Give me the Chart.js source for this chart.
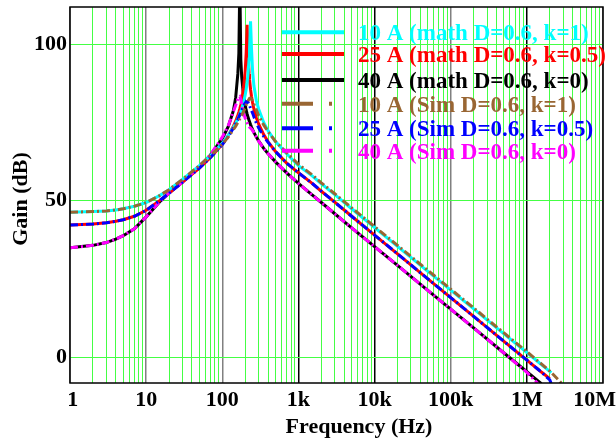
<!DOCTYPE html>
<html><head><meta charset="utf-8">
<script src="https://cdn.jsdelivr.net/npm/chart.js@4/dist/chart.umd.min.js"></script>
<style>html,body{margin:0;padding:0;background:#fff;}canvas{display:block;}</style>
</head><body>
<canvas id="c" width="616" height="443"></canvas>
<script>
const freqHz = [1,2,3,4,5,7,10,15,20,30,
  50,70,100,120,140,150,160,165,170,175,
  180,190,200,206,212,218,225,228,235,242,
  250,260,280,300,350,400,500,700,1000,1500,
  2000,3000,5000,1e4,2e4,5e4,1e5,2e5,5e5,1e6,
  1.4e6,1.55e6,2e6,2.1e6,3e6];
const tickLabels = ['1','10','100','1k','10k','100k','1M','10M'];
const yTickValues = [0,50,100];
const seriesNames = ['10 A (math D=0.6, k=1)','25 A (math D=0.6, k=0.5)','40 A (math D=0.6, k=0)',
  '10 A (Sim D=0.6, k=1)','25 A (Sim D=0.6, k=0.5)','40 A (Sim D=0.6, k=0)'];
const xTitle = 'Frequency (Hz)';
const yTitle = 'Gain (dB)';

const gain10AMath = [46.3,46.5,46.7,47.0,47.4,48.2,49.4,51.6,53.5,56.8,
  61.2,64.4,68.3,70.9,73.4,74.7,76.1,76.9,77.7,78.5,
  79.4,81.4,83.8,85.6,87.8,90.8,95.3,98.5,107.3,98.5,
  91.5,86.8,82.0,79.3,75.0,72.3,68.9,65.0,61.2,58.0,
  55.4,51.9,47.4,41.4,35.4,27.4,21.4,15.4,7.4,1.4,
  -1.5,-2.4,-4.6,-5.0,null];
const gain25AMath = [42.2,42.5,42.9,43.4,43.9,45.0,46.9,50.0,52.4,55.9,
  60.4,63.8,68.0,70.8,73.8,75.4,77.3,78.3,79.4,80.6,
  82.0,86.0,91.5,97.2,106.2,97.3,90.5,88.7,85.6,83.3,
  81.3,79.3,76.5,74.5,71.1,68.8,65.7,62.0,58.9,55.6,
  53.0,49.5,45.0,39.0,33.0,25.0,19.0,13.0,5.0,-1.0,
  -3.9,-4.8,-6.9,null,null];
const gain40AMath = [34.9,35.7,36.6,37.7,38.8,41.0,44.8,49.6,52.4,55.9,
  60.9,64.6,69.8,73.7,78.8,83.0,90.5,97.0,120,95.2,
  89.5,83.7,80.4,78.9,77.7,76.7,75.6,75.2,74.3,73.5,
  72.7,71.8,70.3,69.1,66.7,65.0,62.4,58.9,55.5,51.9,
  49.4,45.8,41.3,35.3,29.3,21.3,15.3,9.3,1.3,-4.7,
  -7.6,-8.5,null,null,null];
const gain10ASim = [46.3,46.5,46.7,47.0,47.4,48.2,49.4,51.6,53.5,56.8,
  61.2,64.4,68.0,70.4,72.7,73.8,75.0,75.6,76.2,76.8,
  77.3,78.4,79.8,80.6,81.3,81.9,82.5,82.7,82.8,82.5,
  81.8,80.9,79.0,77.2,74.2,72.0,68.9,65.3,61.6,58.3,
  55.7,52.2,47.7,41.7,35.7,27.7,21.7,15.7,7.7,1.7,
  -1.3,-2.2,-4.5,-5.0,-8.9];
const gain25ASim = [42.2,42.5,42.9,43.4,43.9,45.0,46.9,50.0,52.4,55.9,
  60.4,63.8,67.9,70.5,73.2,74.6,76.0,76.7,77.4,78.2,
  78.9,80.2,81.2,81.6,81.7,81.4,80.8,80.4,79.6,78.8,
  78.0,76.8,74.8,73.3,70.5,68.6,65.7,62.0,58.9,55.6,
  53.0,49.5,45.0,39.0,33.0,25.0,19.0,13.0,5.0,-1.0,
  -3.9,-4.8,-7.3,-8.6,null];
const gain40ASim = [34.9,35.7,36.6,37.7,38.8,41.0,44.8,49.6,52.4,55.9,
  60.9,64.7,70.3,74.0,78.5,80.5,82.5,83.1,83.3,82.3,
  80.8,78.0,76.3,75.5,74.8,74.3,73.8,73.5,73.2,72.9,
  72.5,71.7,70.3,69.0,66.7,65.0,62.4,58.9,55.5,51.9,
  49.4,45.8,41.3,35.3,29.3,21.3,15.3,9.3,1.3,-4.9,
  -8.5,null,null,null,null];

const FONT = '"Liberation Serif", "Times New Roman", serif';
const GREEN = '#44ff44';
const SIM_DASH = [8,3,2,3];

function pts(arr){ return freqHz.map((f,i)=>({x:f, y:arr[i]})); }
function mk(label, arr, color, sim){
  return {label, data: pts(arr), borderColor: color, backgroundColor: color,
    borderWidth: 3, pointRadius: 0, tension: 0, spanGaps: false,
    borderDash: sim ? SIM_DASH : [], order: sim ? 0 : 1, _sim: sim};
}
const datasets = [
  mk(seriesNames[0], gain10AMath, '#00ffff', false),
  mk(seriesNames[1], gain25AMath, '#ff0000', false),
  mk(seriesNames[2], gain40AMath, '#000000', false),
  mk(seriesNames[3], gain10ASim, '#996633', true),
  mk(seriesNames[4], gain25ASim, '#0000ff', true),
  mk(seriesNames[5], gain40ASim, '#ff00ff', true)
];

function isDecade(v){ const l=Math.log10(v); return Math.abs(l-Math.round(l))<1e-9; }
const darkDecades = [1e3,1e4,1e6];

const decor = {
  id:'decor',
  beforeDraw(chart){ const c=chart.ctx; c.save(); c.fillStyle='#fff'; c.fillRect(0,0,chart.width,chart.height); c.restore(); },
  afterDraw(chart){
    const c = chart.ctx, a = chart.chartArea;
    c.save();
    c.strokeStyle='#000'; c.lineWidth=1.5;
    c.strokeRect(a.left, a.top, a.right-a.left, a.bottom-a.top);
    c.fillStyle='#000';
    c.font = 'bold 22px ' + FONT;
    c.textAlign='center'; c.textBaseline='alphabetic';
    c.fillText(xTitle, 359, 433);
    c.save(); c.translate(27,199); c.rotate(-Math.PI/2); c.fillText(yTitle,0,0); c.restore();
    // legend
    const lineY = [32.3,54,80,103.7,128.3,150.7];
    c.textAlign='left';
    c.font = 'bold 23px ' + FONT;
    chart.data.datasets.forEach((ds,i)=>{
      const y = lineY[i];
      c.strokeStyle = ds.borderColor; c.lineWidth = 4; c.setLineDash([]);
      c.beginPath();
      if (ds._sim){ c.moveTo(282,y); c.lineTo(313,y); c.moveTo(329,y); c.lineTo(332,y); }
      else { c.moveTo(282,y); c.lineTo(344,y); }
      c.stroke();
      c.fillStyle = ds.borderColor;
      c.fillText(ds.label, 358, y+8);
    });
    c.restore();
  }
};

new Chart(document.getElementById('c'), {
  type:'line',
  data:{datasets},
  options:{
    responsive:false, animation:false, devicePixelRatio:1,
    layout:{padding:{left:0,right:13,top:7,bottom:0}},
    plugins:{legend:{display:false}, tooltip:{enabled:false}},
    scales:{
      x:{type:'logarithmic', min:1, max:1e7,
        afterBuildTicks(s){ const t=[]; for(let e=0;e<7;e++){ for(let m=1;m<10;m++) t.push({value:m*Math.pow(10,e)}); } t.push({value:1e7}); s.ticks=t; },
        afterFit(s){ s.height=60; s.paddingLeft=0; s.paddingRight=0; },
        grid:{drawTicks:false,
          color: ctx => { const v=ctx.tick && ctx.tick.value; if(!v) return GREEN; if(isDecade(v)) return darkDecades.includes(Math.round(v)) ? '#000000' : '#808080'; return GREEN; },
          lineWidth: ctx => { const v=ctx.tick && ctx.tick.value; return v && isDecade(v) ? 1.5 : 1; }},
        border:{display:false},
        ticks:{autoSkip:false, maxRotation:0, minRotation:0, padding:4, color:'#000',
          font:{family:FONT, size:22, weight:'bold'},
          callback:(v)=>{ if(!isDecade(v)) return ''; const i=Math.round(Math.log10(v)); let s=tickLabels[i];
            if(i===0) s=' '+s; if(i===tickLabels.length-1) s=s+'   '; return s; }}
      },
      y:{type:'linear', min:-8.3, max:111.9,
        afterBuildTicks(s){ s.ticks = yTickValues.map(v=>({value:v})); },
        afterFit(s){ s.width=70; s.paddingTop=0; s.paddingBottom=0; },
        grid:{drawTicks:false, color:GREEN, lineWidth:1},
        border:{display:false},
        ticks:{padding:3, color:'#000', font:{family:FONT, size:22, weight:'bold'}, callback:v=>String(v)}
      }
    }
  },
  plugins:[decor]
});
</script>
</body></html>
